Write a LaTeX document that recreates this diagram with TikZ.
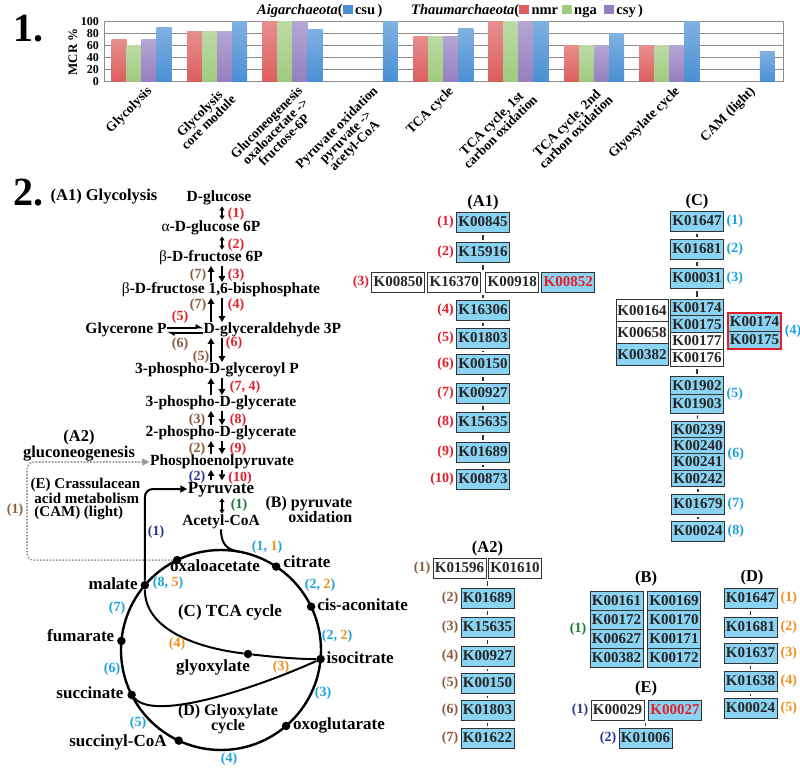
\documentclass[tikz,border=0pt]{standalone}
\usepackage{fontspec}
\setmainfont{Liberation Serif}
\usetikzlibrary{arrows.meta,positioning,calc,fit}
\definecolor{barred}{HTML}{DD5E5E}
\definecolor{bargreen}{HTML}{9FCB7E}
\definecolor{barpurple}{HTML}{957FC0}
\definecolor{barblue}{HTML}{4A8FD4}
\definecolor{kored}{HTML}{E0202A}
\definecolor{kobrown}{HTML}{8C5B3A}
\definecolor{konavy}{HTML}{2B3592}
\definecolor{kogreen}{HTML}{1B7A3E}
\definecolor{kocyan}{HTML}{1BA3DE}
\definecolor{koorange}{HTML}{F0901E}
\definecolor{kofill}{HTML}{8AD3F2}
\newcommand{\mcrbar}[4]{%
  \ifnum#3>0
    \shade[top color=#4!70!white,bottom color=#4]
      ({104+75.4*(#1-0.5)-30+15*#2},81.5) rectangle ++(15,{-0.6*#3});
  \fi}
\newcommand{\lgdsq}[1]{{\color{#1}\rule{10pt}{9pt}}}
\tikzset{
  bignum/.style={font=\fontsize{40}{40}\selectfont\bfseries,inner sep=0pt},
  lgd/.style={font=\fontsize{14.5}{14.5}\selectfont\bfseries,inner sep=0pt,anchor=west},
  ticklbl/.style={font=\fontsize{12}{12}\selectfont\bfseries,inner sep=0pt,anchor=east},
  catlbl/.style={font=\fontsize{13.5}{12.5}\selectfont\bfseries,inner sep=0pt,rotate=45,
                 anchor=north east,align=center},
  gridln/.style={draw=black!45,line width=0.9pt},
  met/.style={font=\fontsize{15.5}{15.5}\selectfont\bfseries,inner sep=0.5pt,
              text height=10.5pt,text depth=3pt},
  bigmet/.style={met,font=\fontsize{17}{17}\selectfont\bfseries,text height=11.5pt,text depth=3.5pt},
  sect/.style={font=\fontsize{16.5}{13}\selectfont\bfseries,inner sep=0.5pt,align=center},
  enz/.style={font=\fontsize{14}{14}\selectfont\bfseries,inner sep=0.5pt},
  fwd/.style={-{Triangle[length=6pt,width=6.5pt]},line width=2.2pt,shorten <=1pt,shorten >=0.5pt},
  hfwd/.style={-{Triangle[harpoon,length=6pt,width=6.5pt]},line width=2pt},
  twoway/.style={{Triangle[length=4pt,width=5pt]}-{Triangle[length=4pt,width=5pt]},
                 line width=1.6pt,shorten <=1pt,shorten >=1pt},
  cyc/.style={line width=2.4pt},
  metdot/.style={circle,fill=black,inner sep=0pt,minimum size=8.5pt},
  camflow/.style={draw=black!40,line width=1.6pt,dash pattern=on 1.6pt off 1.6pt,
                  rounded corners=7pt,-{Triangle[length=7pt,width=7pt]}},
  malflow/.style={line width=2pt,rounded corners=8pt,-{Triangle[length=7pt,width=7pt]}},
  kobox/.style={draw=black!80,line width=1pt,fill=kofill,text=black!85,minimum width=53pt,
                minimum height=20pt,inner sep=0pt,outer sep=0pt,
                font=\fontsize{15}{15}\selectfont\bfseries},
  kowhite/.style={kobox,fill=white},
  kolink/.style={draw=black!80,line width=1.3pt,shorten <=2.5pt,shorten >=2.5pt},
  kotitle/.style={font=\fontsize{16.5}{16.5}\selectfont\bfseries,inner sep=0.5pt},
}
\begin{document}
\begin{tikzpicture}[x=1pt,y=-1pt]
  \useasboundingbox (0,0) rectangle (800,768);
  \fill[white] (0,0) rectangle (800,768);

  % 1. module completeness
  \node[bignum] (n1) at (28,29) {1.};
  \foreach \v in {0,20,...,100} {
    \draw[gridln] (104,{81.5-0.6*\v}) -- (783,{81.5-0.6*\v});
    \node[ticklbl] (tick\v) at (99,{81.5-0.6*\v}) {\v};
  }
  \draw[gridln] (104,21.5) -- (104,81.5) (783,21.5) -- (783,81.5);
  \node[ticklbl,anchor=center,rotate=90,font=\fontsize{13}{13}\selectfont\bfseries] (mcr) at (73,52) {MCR \%};
  \foreach \g/\a/\b/\c/\d in {1/70/60/70/90,2/83/83/83/100,3/100/100/100/87,4/0/0/0/100,
      5/75/75/75/88,6/100/100/100/100,7/60/60/60/80,8/60/60/60/100,9/0/0/0/50} {
    \mcrbar{\g}{0}{\a}{barred}
    \mcrbar{\g}{1}{\b}{bargreen}
    \mcrbar{\g}{2}{\c}{barpurple}
    \mcrbar{\g}{3}{\d}{barblue}
  }
  \foreach \g/\txt in {1/Glycolysis,2/{Glycolysis\\core module},
      3/{Gluconeogenesis\\oxaloacetate ->\\fructose-6P},4/{Pyruvate oxidation\\pyruvate ->\\acetyl-CoA},
      5/TCA cycle,6/{TCA cycle, 1st\\carbon oxidation},7/{TCA cycle, 2nd\\carbon oxidation},
      8/Glyoxylate cycle,9/CAM (light)}
    \node[catlbl] (cat\g) at ({104+75.4*(\g-0.5)+4},85) {\txt};
  \node[lgd] (lgdaig) at (257,11) {\textit{Aigarchaeota}(\lgdsq{barblue}\,csu\,)};
  \node[lgd] (lgdthaum) at (411,11)
    {\textit{Thaumarchaeota}(\lgdsq{barred}\,nmr\ \lgdsq{bargreen}\,nga\ \ \lgdsq{barpurple}\,csy\,)};

  % 2. pathways
  \node[bignum] (n2) at (28,193) {2.};
  \node[sect] (sa1) at (104,197) {(A1) Glycolysis};
  \node[met] (glc) at (219,198) {D-glucose};
  \node[met] (g6p) at (211,228) {{\mdseries α}-D-glucose 6P};
  \node[met] (f6p) at (211,258) {{\mdseries β}-D-fructose 6P};
  \node[met] (fbp) at (221,290) {{\mdseries β}-D-fructose 1,6-bisphosphate};
  \node[met] (glyc) at (126,330) {Glycerone P};
  \node[met,anchor=west] (gap3p) at (203,330) {D-glyceraldehyde 3P};
  \node[met] (gyp) at (217,370) {3-phospho-D-glyceroyl P};
  \node[met] (pga3) at (221,403) {3-phospho-D-glycerate};
  \node[met] (pga2) at (221,433) {2-phospho-D-glycerate};
  \node[met] (pep) at (222,462) {Phosphoenolpyruvate};
  \node[bigmet] (pyr) at (221,489) {Pyruvate};
  \node[met] (acoa) at (221,522) {Acetyl-CoA};

  \coordinate (upx) at (211,0);
  \coordinate (dnx) at (222,0);
  \foreach \a/\b in {glc/g6p,g6p/f6p}
    \draw[twoway] (\a.south -| dnx) -- (\b.north -| dnx);
  \foreach \a/\b in {f6p/fbp,fbp/gap3p,gap3p/gyp,gyp/pga3,pga3/pga2,pga2/pep,pep/pyr} {
    \draw[fwd] (\b.north -| upx) -- (\a.south -| upx);
    \draw[fwd] (\a.south -| dnx) -- (\b.north -| dnx);
  }
  \draw[twoway] (pyr.south -| dnx) -- (acoa.north -| dnx);
  \draw[hfwd] ([yshift=2.5pt]glyc.east) -- ([yshift=2.5pt]gap3p.west);
  \draw[hfwd] ([yshift=-2.5pt]gap3p.west) -- ([yshift=-2.5pt]glyc.east);

  \foreach \n/\x/\y/\c/\t in {1/236/214/kored/(1),2/236/245/kored/(2),3/198/275/kobrown/(7),
      4/236/275/kored/(3),5/198/305/kobrown/(7),6/236/305/kored/(4),7/180/317/kored/(5),
      8/180/344/kobrown/(6),9/234/343/kored/(6),10/201/357/kobrown/(5),11/245/387/kored/{(7, 4)},
      12/197/420/kobrown/(3),13/238/420/kored/(8),14/197/449/kobrown/(2),15/238/449/kored/(9),
      16/197/477/konavy/(2),17/240/478/kored/(10),18/239/505/kogreen/(1),19/156/532/konavy/(1)}
    \node[enz,text=\c] (p\n) at (\x,\y) {\t};

  \node[sect] (sa2) at (79,446) {(A2)\\gluconeogenesis};
  \node[sect,font=\fontsize{15}{13.5}\selectfont\bfseries,align=left,anchor=west] (se) at (30,499)
    {(E) Crassulacean\\\ acid metabolism\\\ (CAM) (light)};
  \node[sect,align=right,anchor=east,font=\fontsize{16}{15}\selectfont\bfseries] (sb) at (353,510)
    {(B) pyruvate\\oxidation};

  % TCA and glyoxylate cycle
  \coordinate (cen) at (221,650);
  \draw[cyc] (cen) circle[radius=100pt];
  \node[metdot] (oaa) at ($(cen)+(-116:100)$) {};
  \node[metdot] (cit) at ($(cen)+(-56.5:100)$) {};
  \node[metdot] (cisa) at ($(cen)+(-25.7:100)$) {};
  \node[metdot] (icit) at ($(cen)+(5.2:100)$) {};
  \node[metdot] (ogl) at ($(cen)+(49.4:100)$) {};
  \node[metdot] (scoa) at ($(cen)+(115:100)$) {};
  \node[metdot] (succ) at ($(cen)+(153.3:100)$) {};
  \node[metdot] (fum) at ($(cen)+(185.2:100)$) {};
  \node[metdot] (mal) at ($(cen)+(220.4:100)$) {};
  \node[metdot] (glx) at (248,654) {};
  \coordinate (tcajoin) at ($(cen)+(-80:100)$);

  \draw[line width=2pt] (acoa.south) .. controls +(0,14) and +(-12,-2) .. (tcajoin);
  \draw[line width=2pt] (mal) .. controls +(0,45) and +(-50,-6) .. (glx)
                        .. controls +(35,4) and +(-20,0) .. (icit);
  \draw[line width=2pt] (succ) .. controls +(25,28) and +(-55,25) .. (icit);

  \node[bigmet] (loaa) at (215,567) {oxaloacetate};
  \node[bigmet,right=2pt of cit,yshift=3pt] (lcit) {citrate};
  \node[bigmet,right=1pt of cisa] (lcisa) {cis-aconitate};
  \node[bigmet,right=1pt of icit] (licit) {isocitrate};
  \node[bigmet,right=2pt of ogl] (logl) {oxoglutarate};
  \node[bigmet,left=7pt of scoa,yshift=-2pt] (lscoa) {succinyl-CoA};
  \node[bigmet,left=3pt of succ] (lsucc) {succinate};
  \node[bigmet,left=2pt of fum,yshift=3pt] (lfum) {fumarate};
  \node[bigmet,left=2pt of mal] (lmal) {malate};
  \node[bigmet] (lglx) at (213,667) {glyoxylate};
  \node[sect,font=\fontsize{17}{17}\selectfont\bfseries] (sc) at (230,612) {(C) TCA cycle};
  \node[sect,font=\fontsize{16}{13}\selectfont\bfseries] (sd) at (228,719) {(D) Glyoxylate\\cycle};

  \foreach \n/\x/\y/\t in {1/267/547/{(1, \textcolor{koorange}{1})},2/320/585/{(2, \textcolor{koorange}{2})},
      3/337/636/{(2, \textcolor{koorange}{2})},4/323/693/(3),5/229/759/(4),6/138/723/(5),
      7/112/669/(6),8/117/608/(7),9/168/583/{(8, \textcolor{koorange}{5})}}
    \node[enz,text=kocyan] (q\n) at (\x,\y) {\t};
  \node[enz,text=koorange] (q10) at (177,644) {(4)};
  \node[enz,text=koorange] (q11) at (281,667) {(3)};

  % CAM and gluconeogenesis links
  \coordinate (camturn) at (27,510);
  \draw[camflow] (oaa) -| (camturn) |- (pep.west);
  \node[enz,text=kobrown,left=3pt of camturn] (p20) {(1)};
  \draw[malflow] (mal) |- (pyr.west);

  % (A1) orthologs
  \foreach \i/\ko/\y in {1/K00845/222,2/K15916/252,4/K16306/310,5/K01803/338,6/K00150/364,
      7/K00927/393,8/K15635/422,9/K01689/452,10/K00873/479} {
    \node[kobox] (a\i) at (483,\y) {\ko};
    \node[enz,text=kored,left=2pt of a\i] (na\i) {(\i)};
  }
  \node[kowhite] (a3a) at (398.3,282) {K00850};
  \node[kowhite,right=3pt of a3a] (a3b) {K16370};
  \node[kowhite,right=5pt of a3b] (a3c) {K00918};
  \node[kobox,right=3pt of a3c,text=kored] (a3d) {K00852};
  \node[enz,text=kored,left=2pt of a3a] (na3) {(3)};
  \node[kotitle,above=1pt of a1] (ta1) {(A1)};
  \foreach \a/\b in {a1/a2,a4/a5,a5/a6,a6/a7,a7/a8,a8/a9,a9/a10}
    \draw[kolink] (\a) -- (\b);
  \draw[kolink] (a2) -- (a2 |- a3b.north);
  \draw[kolink] (a2 |- a3b.south) -- (a4);

  % (C) orthologs
  \node[kobox] (c1) at (697,221) {K01647};
  \node[kobox] (c2) at (697,249) {K01681};
  \node[kobox] (c3) at (697,278) {K00031};
  \node[kobox,minimum height=16.75pt,anchor=north] (c4a) at (697,299) {K00174};
  \node[kobox,minimum height=16.75pt,below=0pt of c4a] (c4b) {K00175};
  \node[kowhite,minimum height=16.75pt,below=0pt of c4b] (c4c) {K00177};
  \node[kowhite,minimum height=16.75pt,below=0pt of c4c] (c4d) {K00176};
  \node[kowhite,minimum height=22.33pt,minimum width=52pt,anchor=north east] (cl1)
    at ([xshift=-2.5pt]c4a.north west) {K00164};
  \node[kowhite,minimum height=22.33pt,minimum width=52pt,below=0pt of cl1] (cl2) {K00658};
  \node[kobox,minimum height=22.33pt,minimum width=52pt,below=0pt of cl2] (cl3) {K00382};
  \node[kobox,minimum height=18pt,anchor=north west] (cr1) at (728,313) {K00174};
  \node[kobox,minimum height=18pt,below=0pt of cr1] (cr2) {K00175};
  \node[draw=kored,line width=1.5pt,inner sep=0pt,fit=(cr1)(cr2)] (crf) {};
  \node[kobox,minimum height=18.5pt,anchor=north] (c5a) at (697,376) {K01902};
  \node[kobox,minimum height=18.5pt,below=0pt of c5a] (c5b) {K01903};
  \node[kobox,minimum height=16.4pt,anchor=north] (c6a) at (698,421) {K00239};
  \node[kobox,minimum height=16.4pt,below=0pt of c6a] (c6b) {K00240};
  \node[kobox,minimum height=16.4pt,below=0pt of c6b] (c6c) {K00241};
  \node[kobox,minimum height=16.4pt,below=0pt of c6c] (c6d) {K00242};
  \node[kobox] (c7) at (698,504) {K01679};
  \node[kobox] (c8) at (698,531) {K00024};
  \node[kotitle,above=1pt of c1] (tc) {(C)};
  \foreach \b/\t in {c1/1,c2/2,c3/3,crf/4,c7/7,c8/8}
    \node[enz,text=kocyan,right=2.5pt of \b] (nc\t) {(\t)};
  \node[enz,text=kocyan,anchor=west] (nc5) at ([xshift=2.5pt]c5a.south east) {(5)};
  \node[enz,text=kocyan,anchor=west] (nc6) at ([xshift=2.5pt]c6b.south east) {(6)};
  \foreach \a/\b in {c1/c2,c2/c3,c3/c4a,c4d/c5a,c5b/c6a,c6d/c7,c7/c8}
    \draw[kolink] (\a) -- (\b);

  % (A2) orthologs
  \node[kowhite] (g1a) at (459.5,568) {K01596};
  \node[kowhite,right=2.5pt of g1a] (g1b) {K01610};
  \node[enz,text=kobrown,left=2pt of g1a] (ng1) {(1)};
  \foreach \i/\ko/\y in {2/K01689/598,3/K15635/627,4/K00927/656,5/K00150/683,6/K01803/710,7/K01622/738} {
    \node[kobox] (g\i) at (487.5,\y) {\ko};
    \node[enz,text=kobrown,left=2pt of g\i] (ng\i) {(\i)};
  }
  \node[kotitle] (ta2) at (487.5,549) {(A2)};
  \draw[kolink] (g2 |- g1a.south) -- (g2);
  \foreach \a/\b in {g2/g3,g3/g4,g4/g5,g5/g6,g6/g7}
    \draw[kolink] (\a) -- (\b);

  % (B) orthologs
  \node[kobox,minimum height=19pt,anchor=north] (b1) at (616.5,591) {K00161};
  \node[kobox,minimum height=19pt,below=0pt of b1] (b2) {K00172};
  \node[kobox,minimum height=19pt,below=0pt of b2] (b3) {K00627};
  \node[kobox,minimum height=19pt,below=0pt of b3] (b4) {K00382};
  \node[kobox,minimum height=19pt,right=4.5pt of b1] (b5) {K00169};
  \node[kobox,minimum height=19pt,below=0pt of b5] (b6) {K00170};
  \node[kobox,minimum height=19pt,below=0pt of b6] (b7) {K00171};
  \node[kobox,minimum height=19pt,below=0pt of b7] (b8) {K00172};
  \node[enz,text=kogreen,anchor=east] (nb1) at ([xshift=-3pt]b2.south west) {(1)};
  \node[kotitle] (tb) at (646,579) {(B)};

  % (D) orthologs
  \foreach \i/\ko/\y in {1/K01647/598,2/K01681/627,3/K01637/653,4/K01638/681,5/K00024/708} {
    \node[kobox] (d\i) at (750.5,\y) {\ko};
    \node[enz,text=koorange,right=3pt of d\i] (nd\i) {(\i)};
  }
  \node[kotitle] (td) at (752,578) {(D)};
  \foreach \a/\b in {d1/d2,d2/d3,d3/d4,d4/d5}
    \draw[kolink] (\a) -- (\b);

  % (E) orthologs
  \node[kowhite] (e1a) at (617.5,710) {K00029};
  \node[kobox,right=4.5pt of e1a,text=kored] (e1b) {K00027};
  \node[kobox] (e2) at (645.5,738) {K01006};
  \node[enz,text=konavy,left=2pt of e1a] (ne1) {(1)};
  \node[enz,text=konavy,left=2pt of e2] (ne2) {(2)};
  \node[kotitle] (te) at (646,689) {(E)};
  \draw[kolink] (e2 |- e1a.south) -- (e2);
\end{tikzpicture}
\end{document}
